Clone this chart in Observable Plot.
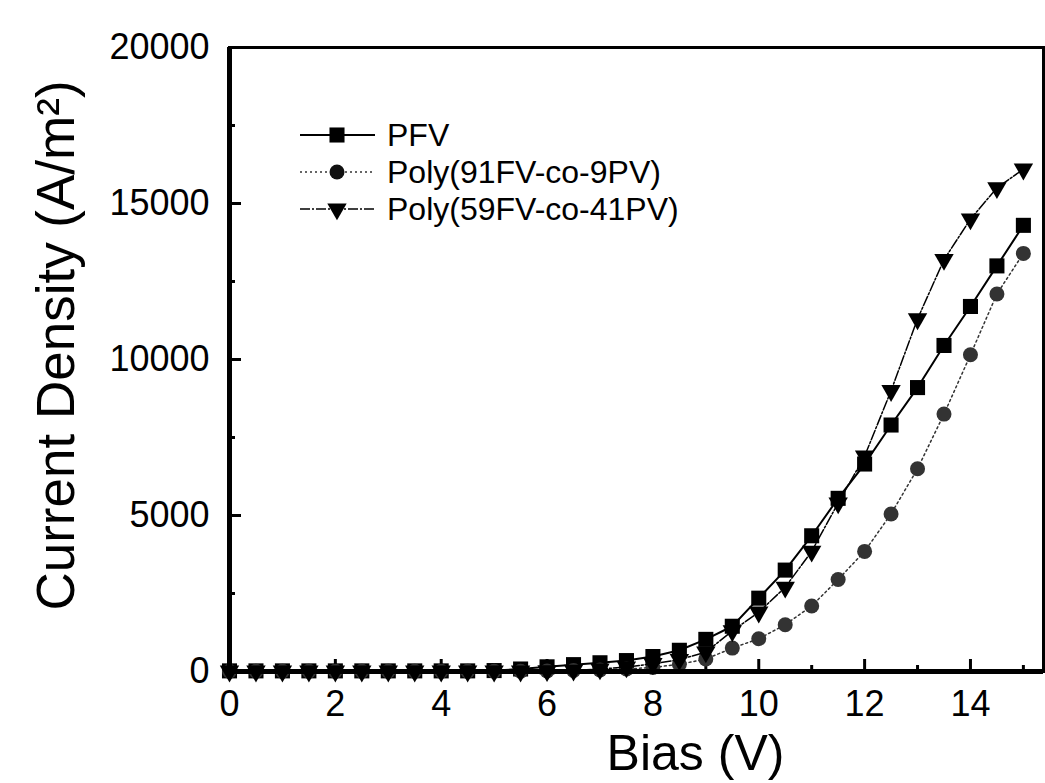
<!DOCTYPE html>
<html>
<head>
<meta charset="utf-8">
<script src="https://cdn.jsdelivr.net/npm/d3@7"></script>
<script src="https://cdn.jsdelivr.net/npm/@observablehq/plot@0.6"></script>
<style>
  html, body { margin: 0; padding: 0; background: #fff; }
  #chart { position: relative; width: 1045px; height: 783px; }
</style>
</head>
<body>
<div id="chart"></div>
<script>
// ---- data ----
const bias = [0,0.5,1,1.5,2,2.5,3,3.5,4,4.5,5,5.5,6,6.5,7,7.5,8,8.5,9,9.5,10,10.5,11,11.5,12,12.5,13,13.5,14,14.5,15];
const pfv    = [20,20,20,20,20,20,20,20,20,20,30,80,150,220,280,350,480,680,1030,1450,2350,3250,4350,5550,6650,7900,9100,10450,11700,13000,14300];
const poly91 = [10,10,10,10,10,10,10,10,10,10,10,10,15,30,50,80,130,230,400,750,1050,1500,2100,2950,3850,5050,6500,8250,10150,12100,13400];
const poly59 = [10,10,10,10,10,10,10,10,10,10,10,10,20,40,80,140,250,380,620,1300,1900,2700,3850,5400,6900,9000,11300,13200,14500,15500,16100];
const seriesNames = ["PFV", "Poly(91FV-co-9PV)", "Poly(59FV-co-41PV)"];
const seriesValues = [pfv, poly91, poly59];
const xMajor = [0,2,4,6,8,10,12,14];
const xMinor = [1,3,5,7,9,11,13,15];
const yMajor = [0,5000,10000,15000,20000];
const yMinor = [2500,7500,12500,17500];

// ---- styles ----
const styles = {
  "PFV":                {symbol: "square",   r: 8.5, rotate: 0,   fill: "#000", stroke: "#000", strokeWidth: 2,   dash: null},
  "Poly(91FV-co-9PV)":  {symbol: "circle",   r: 7.5, rotate: 0,   fill: "#333", stroke: "#333", strokeWidth: 1.5, dash: "2,3"},
  "Poly(59FV-co-41PV)": {symbol: "triangle", r: 7.2, rotate: 180, fill: "#000", stroke: "#000", strokeWidth: 1.5, dash: "10,2,2,2"}
};

const rows = [];
seriesNames.forEach((name, i) => {
  bias.forEach((b, j) => rows.push({series: name, bias: b, value: seriesValues[i][j]}));
});

const W = 1045, H = 783;
const mL = 229, mR = 2, mT = 47, mB = 112;
const frameW = W - mL - mR, frameH = H - mT - mB;
const font = "'Liberation Sans', Arial, Helvetica, sans-serif";

const seriesMarks = seriesNames.flatMap(name => {
  const s = styles[name];
  const data = rows.filter(r => r.series === name);
  return [
    Plot.line(data, {x: "bias", y: "value", stroke: s.stroke, strokeWidth: s.strokeWidth, strokeDasharray: s.dash}),
    Plot.dot(data, {x: "bias", y: "value", symbol: s.symbol, r: s.r, rotate: s.rotate, fill: s.fill, stroke: "none"})
  ];
});

function legend(index, scales, values, dimensions) {
  const g = d3.create("svg:g");
  const x0 = dimensions.marginLeft + 71;
  const y0 = dimensions.marginTop + 88;
  const rowH = 37;
  seriesNames.forEach((name, i) => {
    const s = styles[name];
    const y = y0 + i * rowH;
    g.append("line").attr("x1", x0).attr("x2", x0 + 75).attr("y1", y).attr("y2", y)
      .attr("stroke", s.stroke).attr("stroke-width", s.strokeWidth)
      .attr("stroke-dasharray", s.dash);
    const symType = s.symbol === "square" ? d3.symbolSquare : s.symbol === "circle" ? d3.symbolCircle : d3.symbolTriangle;
    g.append("path")
      .attr("d", d3.symbol(symType, Math.PI * s.r * s.r)())
      .attr("transform", `translate(${x0 + 37},${y}) rotate(${s.rotate})`)
      .attr("fill", i === 1 ? "#111" : s.fill);
    g.append("text").attr("x", x0 + 87).attr("y", y).attr("dy", "0.35em")
      .attr("text-anchor", "start")
      .attr("font-size", 32).attr("font-family", font).attr("fill", "#000")
      .text(name);
  });
  return g.node();
}

const chart = Plot.plot({
  width: W,
  height: H,
  marginLeft: mL,
  marginRight: mR,
  marginTop: mT,
  marginBottom: mB,
  style: {fontFamily: font, background: "#fff", color: "#000", overflow: "visible"},
  x: {domain: [0, 15.38], label: null},
  y: {domain: [0, 20000], label: null},
  marks: [
    Plot.axisX(xMajor, {tickSize: 0, tickPadding: 19, fontSize: 36, tickFormat: d => String(d)}),
    Plot.axisY(yMajor, {tickSize: 0, tickPadding: 20, fontSize: 36, tickFormat: d => String(d)}),
    // inward ticks
    Plot.tickX(xMajor, {x: d => d, insetTop: frameH - 12, strokeWidth: 3}),
    Plot.tickX(xMinor, {x: d => d, insetTop: frameH - 6, strokeWidth: 3}),
    Plot.tickY(yMajor, {y: d => d, insetRight: frameW - 12, strokeWidth: 3}),
    Plot.tickY(yMinor, {y: d => d, insetRight: frameW - 6, strokeWidth: 3}),
    ...seriesMarks,
    Plot.frame({stroke: "#000", strokeWidth: 3}),
    Plot.ruleX([0], {strokeWidth: 5}),
    Plot.ruleY([0], {strokeWidth: 5}),
    Plot.text(["Bias (V)"], {frameAnchor: "bottom", dx: 59, dy: 98, lineAnchor: "bottom", textAnchor: "middle", fontSize: 50, fill: "#000"}),
    Plot.text(["Current Density (A/m²)"], {frameAnchor: "left", dx: -172, dy: -14, rotate: -90, lineAnchor: "middle", textAnchor: "middle", fontSize: 53, fill: "#000"}),
    legend
  ]
});
document.getElementById("chart").appendChild(chart);
</script>
</body>
</html>
